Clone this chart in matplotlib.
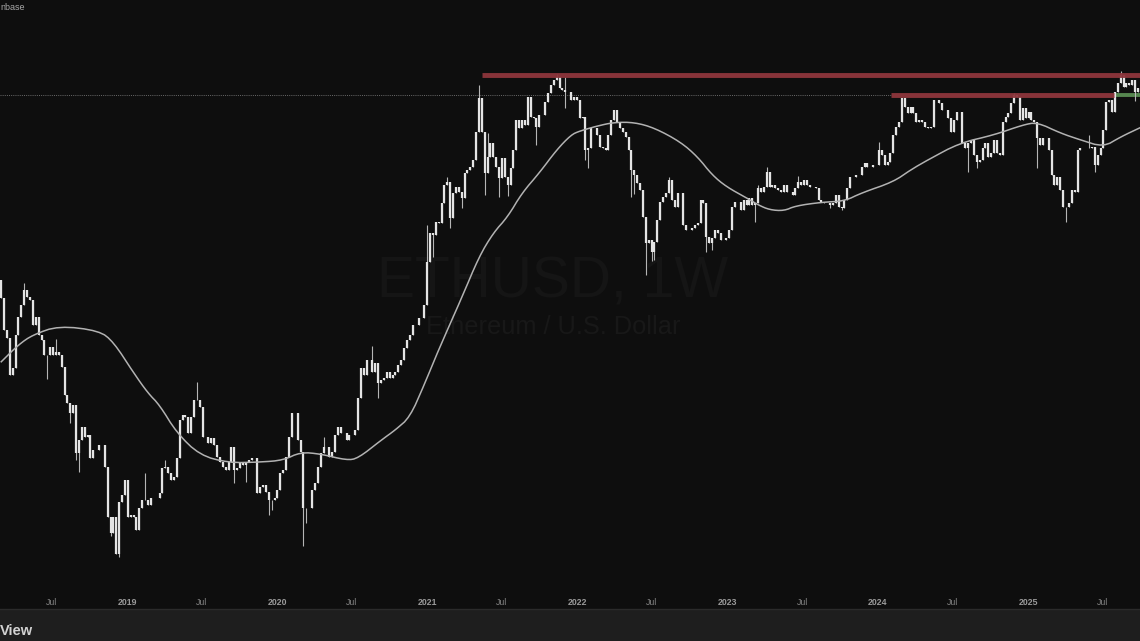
import numpy as np
import pandas as pd
import matplotlib
matplotlib.use("Agg")
import matplotlib.pyplot as plt
import matplotlib.dates as mdates

first_week = "2018-03-01"
first_open = 850
closes = [
729,556,520,380,403,533,621,688,781,735,717,580,621,533,511,450,450,482,450,462,
450,406,320,299,275,294,195,218,244,224,228,187,201,201,209,209,174,114,99,114,
83,129,137,156,114,116,114,102,123,131,131,126,133,134,134,139,172,174,165,156,
160,187,259,270,265,232,265,307,307,289,224,224,213,222,209,189,181,174,169,181,
206,169,172,179,177,181,184,187,187,139,146,149,141,131,131,133,143,165,169,189,
224,275,275,218,197,123,123,123,143,152,174,195,206,206,189,197,228,244,232,232,
218,228,228,238,312,403,380,431,431,390,420,355,364,371,390,371,380,390,413,431,
478,511,533,580,580,616,616,688,990,1265,1244,1389,1377,1632,1901,1950,1437,1776,1870,1790,
1702,2105,2158,2210,2349,2980,3970,2980,2105,2410,2710,2410,2210,2017,2390,2035,1901,2195,2557,3297,
3080,3297,3160,4010,3380,3340,3100,3440,3440,3840,4145,4436,4628,4750,4320,4252,4180,4180,3906,4010,
3906,3340,3380,2557,2600,3080,3080,2903,2620,2600,2557,2903,3297,3589,3240,3080,2980,2855,2557,2158,
2069,1933,1822,1450,1163,1193,1077,1173,1413,1650,1718,1776,1983,1674,1577,1776,1776,1354,1298,1298,
1320,1354,1377,1674,1632,1222,1163,1213,1298,1265,1193,1193,1213,1298,1577,1650,1650,1538,1674,1604,
1702,1604,1632,1850,1790,1870,2122,1870,1901,1850,1822,1790,1901,1790,1790,1746,1850,1950,1901,1983,
1901,1870,1870,1850,1674,1650,1632,1632,1604,1632,1746,1577,1560,1674,1850,2035,2035,2069,2069,2210,
2290,2210,2210,2252,2252,2557,2451,2252,2310,2490,2903,3100,3240,3970,3680,3500,3680,3500,3230,3297,
3240,3100,3080,3100,3906,3906,3800,3589,3589,3340,2980,3297,3530,3530,2710,2600,2710,2783,2451,2310,
2349,2600,2710,2410,2490,2783,2490,2451,3230,3380,3500,3800,4075,4010,3297,3650,3340,3530,3297,3240,
2830,2667,2830,2830,2557,2069,1901,2035,1822,1577,1577,1632,1822,1790,2557,2600,2600,2600,2600,2620,
2252,2451,2600,3029,3840,3906,3530,4180,4510,4828,4360,4510,4436,4628,4180,4320,
]
high_weeks = [8,19,50,57,68,112,129,148,155,166,169,193,196,232,263,266,277,305,352,378,389]
high_prices = [829,515,165,184,358,224,486,1354,2035,4436,2940,4868,4750,2035,1901,2210,2050,2737,4145,2903,4990]
low_weeks = [3,16,24,26,27,38,41,81,85,93,94,105,106,131,150,156,160,168,173,176,186,196,203,204,219,220,224,226,227,245,247,262,288,292,336,339,360,370,380,394]
low_prices = [380,367,252,184,166,97,81,152,153,116,121,89,108,312,1032,1320,1560,1746,1718,1735,2667,3650,2349,2195,1718,1760,887,1000,1007,1077,1090,1389,1560,1538,2122,2195,2195,1389,2122,3868]
ma_weeks = [0,6,11,20,34,39,46,51,55,61,69,79,90,98,104,111,120,124,132,137,142,147,152,160,166,171,176,181,187,193,198,201,207,213,220,227,236,242,247,252,259,263,267,272,276,285,293,299,310,316,322,333,345,355,360,368,375,383,389,396]
ma_prices = [424,490,533,575,552,502,386,325,294,232,192,180,181,184,197,194,184,187,218,238,265,349,470,729,1032,1265,1450,1776,2105,2557,2903,3000,3130,3230,3230,3080,2737,2410,2069,1870,1702,1604,1538,1525,1590,1640,1656,1776,1950,2158,2349,2710,2903,3160,3230,2950,2783,2620,2855,3095]
resistance_prices = [4828, 4075]
resistance_start_weeks = [167.0, 309.2]
resistance_end_weeks = [397.0, 386.6]
support_price = 4060
support_start_week = 387.2
dotted_price = 4075
x_tick_dates = ["2018-07-01","2019-01-01","2019-07-01","2020-01-01","2020-07-01","2021-01-01","2021-07-01","2022-01-01","2022-07-01","2023-01-01","2023-07-01","2024-01-01","2024-07-01","2025-01-01","2025-07-01"]
x_tick_labels = ["Jul","2019","Jul","2020","Jul","2021","Jul","2022","Jul","2023","Jul","2024","Jul","2025","Jul"]

BG = "#0e0e0e"
fig = plt.figure(figsize=(11.4, 6.41), dpi=100, facecolor="#1e1e1e")
ax = fig.add_axes([0, 32 / 641, 1, 609 / 641], facecolor=BG)
ax.set_yscale("log")
ax.set_ylim(52.1, 9115)
ax.set_xlim(mdates.date2num(pd.Timestamp("2018-02-26")), mdates.date2num(pd.Timestamp("2025-09-30")))

c = np.array(closes, float)
o = np.r_[first_open, c[:-1]]
h = np.maximum(o, c)
l = np.minimum(o, c)
for w, p in zip(high_weeks, high_prices):
    h[w] = max(h[w], p)
for w, p in zip(low_weeks, low_prices):
    l[w] = min(l[w], p)
t0 = mdates.date2num(pd.Timestamp(first_week))
week = lambda w: t0 + 7 * np.asarray(w, float)
x = week(np.arange(len(c)))


def rounded(px, py, passes=2):
    pts = np.column_stack([px, np.log(py)])
    for _ in range(passes):
        q = 0.75 * pts[:-1] + 0.25 * pts[1:]
        r = 0.25 * pts[:-1] + 0.75 * pts[1:]
        mid = np.empty((2 * len(q), 2))
        mid[0::2], mid[1::2] = q, r
        pts = np.vstack([pts[0], mid, pts[-1]])
    return pts[:, 0], np.exp(pts[:, 1])


ax.hlines(dotted_price, ax.get_xlim()[0], week(resistance_start_weeks[1]), color="#6a6a6a", lw=0.7, ls=(0, (1, 1.2)), zorder=1)
ax.text(0.485, 0.5355, "ETHUSD, 1W", transform=ax.transAxes, ha="center", va="center", color="#151515",
        fontsize=41, family="Liberation Sans", zorder=1)
ax.text(0.485, 0.4635, "Ethereum / U.S. Dollar", transform=ax.transAxes, ha="center", va="center", color="#181818",
        fontsize=18.3, family="Liberation Sans", zorder=1)

ax.vlines(x, l, h, color="#b5b5b5", lw=0.8, zorder=3)
ax.vlines(x, np.minimum(o, c), np.maximum(o, c), color="#e4e4e4", lw=1.6, zorder=3)
mx, my = rounded(week(ma_weeks), np.array(ma_prices, float))
ax.plot(mx, my, color="#b2b2b2", lw=1.1, zorder=4)

ax.hlines(resistance_prices, week(resistance_start_weeks), week(resistance_end_weeks), color="#8e363c", lw=3.5, zorder=5, alpha=0.95)
ax.hlines(support_price, week(support_start_week), ax.get_xlim()[1], color="#55864f", lw=2.8, zorder=2)

ax.set_xticks(mdates.date2num(pd.to_datetime(x_tick_dates)))
ax.set_xticklabels(x_tick_labels)
ax.tick_params(axis="x", length=0, pad=-8, labelsize=6.3, labelcolor="#858585")
for lab, txt in zip(ax.get_xticklabels(), x_tick_labels):
    lab.set_family("Liberation Sans")
    if txt != "Jul":
        lab.set_fontweight("bold")
        lab.set_color("#9a9a9a")
ax.yaxis.set_major_locator(plt.NullLocator())
ax.yaxis.set_minor_locator(plt.NullLocator())
for s in ax.spines.values():
    s.set_visible(False)
ax.spines["bottom"].set_visible(True)
ax.spines["bottom"].set_color("#2b2b2b")
ax.spines["bottom"].set_linewidth(1)

fig.text(0, 1 - 8 / 641, "nbase", color="#a8a8a8", fontsize=6.5, va="center", ha="left", family="Liberation Sans")
fig.text(0, 1 - 631 / 641, "View", color="#d2d2d2", fontsize=10.5, fontweight="bold", va="center", ha="left", family="Liberation Sans")

fig.savefig("out.png", dpi=100, facecolor=fig.get_facecolor())
